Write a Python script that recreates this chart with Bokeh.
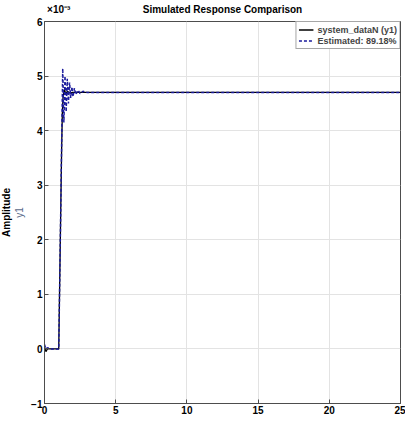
import math
from bokeh.plotting import figure
from bokeh.models import Range1d, Label, Legend, LegendItem, FixedTicker, LinearAxis
from bokeh.embed import file_html
from bokeh.resources import INLINE

# Amplitude values in units of 1e-3
t_meas = [0.0, 0.1, 0.2, 0.4, 0.7, 1.0, 1.05, 1.1, 1.15, 1.2, 1.25, 1.3, 1.4, 1.5, 1.6, 1.8, 2.0, 25.0]
y_meas = [0.03, -0.05, 0.0, 0.0, 0.0, 0.0, 0.9, 1.8, 2.7, 3.6, 4.3, 4.6, 4.76, 4.66, 4.72, 4.69, 4.7, 4.7]

t_est = [0.0, 0.1, 0.2, 0.5, 1.0, 1.05, 1.1, 1.15, 1.2, 1.28, 1.36, 1.44, 1.52, 1.6, 1.68,
         1.76, 1.84, 1.92, 2.0, 2.1, 2.2, 2.35, 2.5, 2.7, 3.0, 25.0]
y_est = [0.08, 0.0, 0.02, 0.0, 0.0, 0.9, 1.8, 2.7, 3.7, 5.14, 4.15, 5.0, 4.35, 4.95, 4.5,
         4.88, 4.6, 4.8, 4.62, 4.78, 4.66, 4.74, 4.68, 4.72, 4.7, 4.7]

x_ticks = [0, 5, 10, 15, 20, 25]
y_ticks = [-1, 0, 1, 2, 3, 4, 5, 6]

title = "Simulated Response Comparison"
exponent_text = "\u00d710\u207b\u00b3"
meas_name = "system_dataN (y1)"
est_name = "Estimated: 89.18%"

FONT = "Liberation Sans"
AX = "#4d4d4d"

p = figure(width=405, height=416, x_range=Range1d(0, 25), y_range=Range1d(-1, 6),
           output_backend="svg", toolbar_location=None,
           min_border_left=10, min_border_right=5, min_border_top=4, min_border_bottom=4)
p.background_fill_color = "white"
p.outline_line_color = AX
p.outline_line_width = 1

for ax in (p.xaxis, p.yaxis):
    ax.major_tick_in = 4
    ax.major_tick_out = 0
    ax.minor_tick_line_color = None
    ax.axis_line_color = AX
    ax.major_tick_line_color = AX
    ax.major_label_text_font = FONT
    ax.major_label_text_font_style = "bold"
    ax.major_label_text_font_size = "10px"
    ax.major_label_text_color = "black"
    ax.major_label_standoff = 2
p.xaxis.ticker = FixedTicker(ticks=x_ticks)
p.yaxis.ticker = FixedTicker(ticks=y_ticks)
p.xgrid.ticker = FixedTicker(ticks=x_ticks)
p.ygrid.ticker = FixedTicker(ticks=y_ticks)
p.grid.grid_line_color = "#e3e3e3"
p.grid.grid_line_width = 1

p.yaxis.axis_label = "y1"
p.yaxis.axis_label_text_font = FONT
p.yaxis.axis_label_text_font_style = "normal"
p.yaxis.axis_label_text_font_size = "10px"
p.yaxis.axis_label_text_color = "#5a6a8a"
p.yaxis.axis_label_standoff = 3

# top row: exponent marker and title as labels of an unticked axis
top_axis = LinearAxis(ticker=FixedTicker(ticks=[1.0, 12.5]),
                      major_label_overrides={1.0: exponent_text, 12.5: title})
top_axis.axis_line_color = None
top_axis.major_tick_line_color = None
top_axis.minor_tick_line_color = None
top_axis.major_label_text_font = FONT
top_axis.major_label_text_font_style = "bold"
top_axis.major_label_text_font_size = "10px"
top_axis.major_label_text_color = "black"
top_axis.major_label_standoff = 1
p.add_layout(top_axis, "above")

p.add_layout(Label(x=6, x_units="screen", y=2.5, text="Amplitude", angle=math.pi / 2,
                   text_align="center", text_baseline="middle", text_font=FONT,
                   text_font_style="bold", text_font_size="10px", text_color="black"), "left")

r1 = p.line(t_meas, y_meas, line_color="black", line_width=1.3)
r2 = p.line(t_est, y_est, line_color="#1a1a9c", line_width=1.5, line_dash="3 2")

legend = Legend(items=[LegendItem(label=meas_name, renderers=[r1]),
                       LegendItem(label=est_name, renderers=[r2])],
                location="top_right", margin=0, padding=2, spacing=0,
                glyph_width=15, glyph_height=11, label_standoff=4,
                label_text_font=FONT, label_text_font_style="bold",
                label_text_font_size="9px", label_height=11,
                border_line_color=AX, border_line_width=1,
                background_fill_color="white", background_fill_alpha=1)
p.add_layout(legend)

open("out.html", "w").write(file_html(p, INLINE))
